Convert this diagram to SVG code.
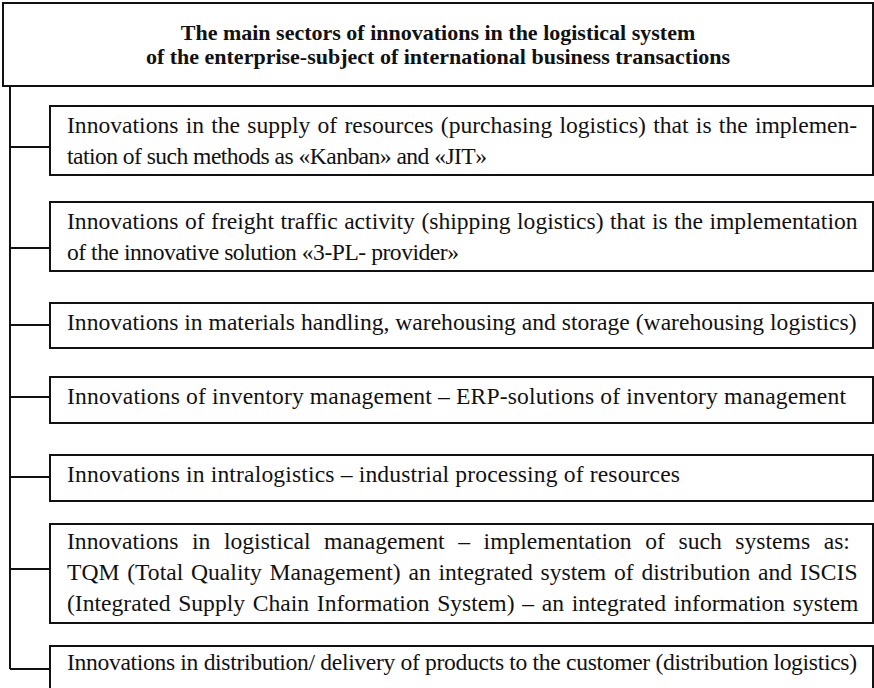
<svg xmlns="http://www.w3.org/2000/svg" width="874" height="688" viewBox="0 0 874 688">
<style>
.box{fill:#fff;stroke:#111;stroke-width:2}
.ln{stroke:#111;stroke-width:2;fill:none}
.t{font-family:"Liberation Serif","Times New Roman",serif;font-size:23.6px;fill:#111}
.h{font-family:"Liberation Serif","Times New Roman",serif;font-size:22px;font-weight:bold;fill:#111;text-anchor:middle}
</style>
<rect width="874" height="688" fill="#fff"/>
<g id="connectors">
<path class="ln" d="M10,86 V669"/>
<path class="ln" d="M10,147 H50 M10,248 H50 M10,325 H50 M10,397 H50 M10,477 H50 M10,569 H50 M10,669 H50"/>
</g>
<g id="title">
<rect class="box" x="3" y="3" width="870" height="83"/>
<text class="h" x="438" y="40">The main sectors of innovations in the logistical system</text>
<text class="h" x="438" y="64">of the enterprise-subject of international business transactions</text>
</g>
<g id="n1">
<rect class="box" x="50" y="106" width="823" height="69"/>
<text class="t" x="67" y="133" word-spacing="1.36">Innovations in the supply of resources (purchasing logistics) that is the implemen-</text>
<text class="t" x="67" y="164" textLength="420" lengthAdjust="spacing">tation of such methods as «Kanban» and «JIT»</text>
</g>
<g id="n2">
<rect class="box" x="50" y="202" width="823" height="69"/>
<text class="t" x="67" y="229" word-spacing="0.6">Innovations of freight traffic activity (shipping logistics) that is the implementation</text>
<text class="t" x="67" y="260" textLength="392" lengthAdjust="spacing">of the innovative solution «3-PL- provider»</text>
</g>
<g id="n3">
<rect class="box" x="50" y="303" width="823" height="45"/>
<text class="t" x="67" y="330">Innovations in materials handling, warehousing and storage (warehousing logistics)</text>
</g>
<g id="n4">
<rect class="box" x="50" y="377" width="823" height="46"/>
<text class="t" x="67" y="404" textLength="779" lengthAdjust="spacing">Innovations of inventory management – ERP-solutions of inventory management</text>
</g>
<g id="n5">
<rect class="box" x="50" y="455" width="823" height="46"/>
<text class="t" x="67" y="482" textLength="613" lengthAdjust="spacing">Innovations in intralogistics – industrial processing of resources</text>
</g>
<g id="n6">
<rect class="box" x="50" y="524" width="823" height="99"/>
<text class="t" x="67" y="549" word-spacing="7.7">Innovations in logistical management – implementation of such systems as:</text>
<text class="t" x="67" y="580" word-spacing="1.9">TQM (Total Quality Management) an integrated system of distribution and ISCIS</text>
<text class="t" x="67" y="611" word-spacing="1.8">(Integrated Supply Chain Information System) – an integrated information system</text>
</g>
<g id="n7">
<rect class="box" x="50" y="646" width="823" height="60"/>
<text class="t" x="67" y="670" textLength="790" lengthAdjust="spacing">Innovations in distribution/ delivery of products to the customer (distribution logistics)</text>
</g>
</svg>
